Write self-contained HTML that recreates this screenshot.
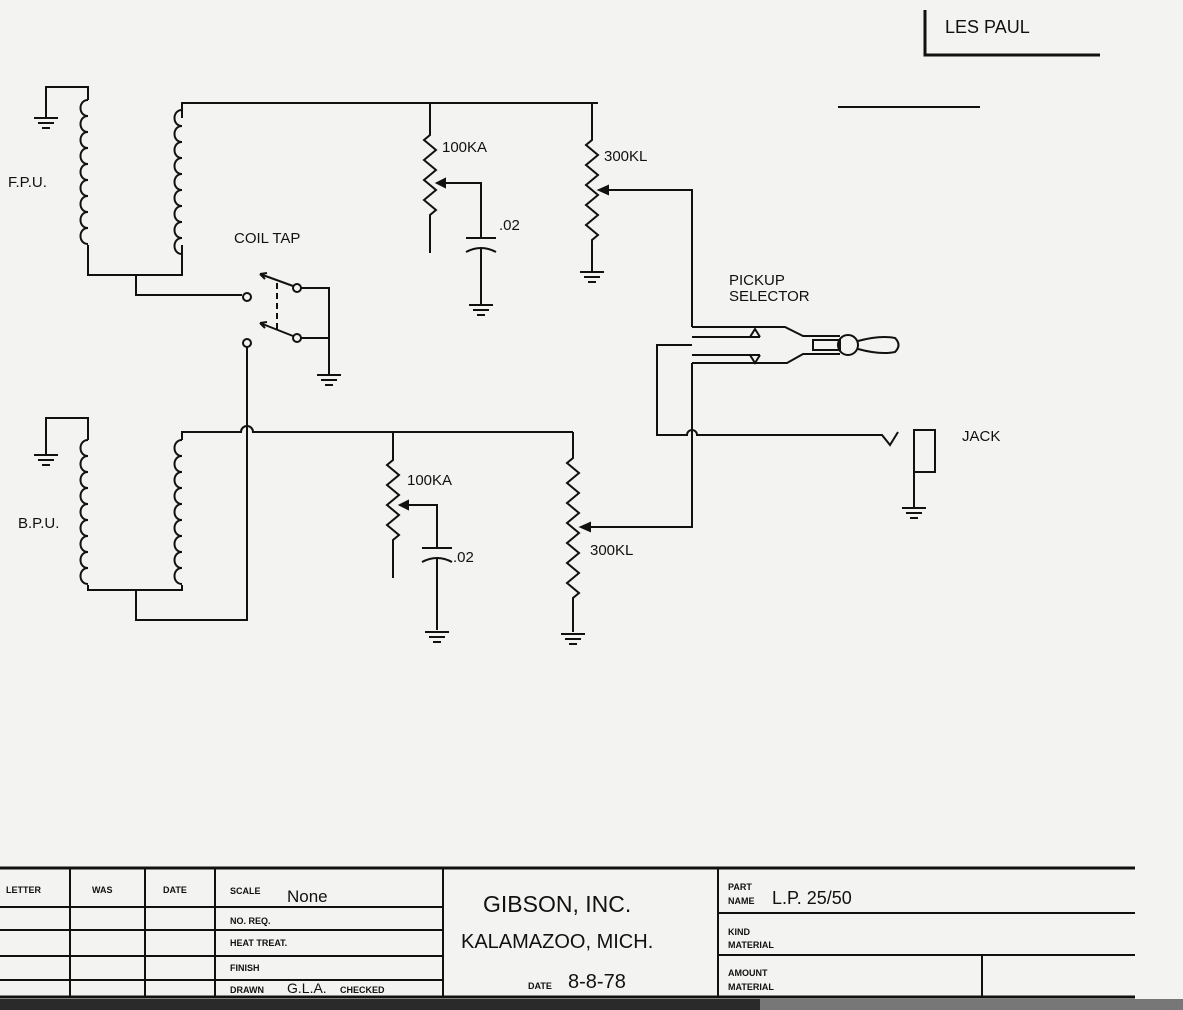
<!DOCTYPE html>
<html><head><meta charset="utf-8"><style>
body{margin:0;background:#f2f2f0;}
svg{display:block}
text{font-family:"Liberation Sans",sans-serif;fill:#111}
</style></head><body>
<svg width="1183" height="1010" viewBox="0 0 1183 1010" xmlns="http://www.w3.org/2000/svg">
<defs>
<g id="gnd" stroke="#111" stroke-width="2"><line x1="-12" y1="0" x2="12" y2="0"/><line x1="-8" y1="5" x2="8" y2="5"/><line x1="-4" y1="10" x2="4" y2="10"/></g>
<path id="coil" d="M0,0 c-10,0 -10,16 0,16 c-10,0 -10,16 0,16 c-10,0 -10,16 0,16 c-10,0 -10,16 0,16 c-10,0 -10,16 0,16 c-10,0 -10,16 0,16 c-10,0 -10,16 0,16 c-10,0 -10,16 0,16 c-10,0 -10,16 0,16" fill="none" stroke="#111" stroke-width="2"/>
</defs>
<rect width="1183" height="1010" fill="#f3f3f1"/>
<g fill="none" stroke="#111" stroke-width="2">
<path d="M925,10 V55 H1100" stroke-width="3"/>
<line x1="838" y1="107" x2="980" y2="107"/>
<path d="M46,118 V87 H88 V100"/>
<path d="M88,245 V275 H182 V245"/>
<path d="M182,118 V103 H598"/>
<path d="M136,275 V295 H242"/>
<circle cx="247" cy="297" r="4"/>
<circle cx="297" cy="288" r="4"/>
<circle cx="297" cy="338" r="4"/>
<circle cx="247" cy="343" r="4"/>
<path d="M293,286 L260,274 M260,274 l7,-1 M260,274 l5,5"/>
<path d="M293,336 L260,323 M260,323 l7,-1 M260,323 l5,5"/>
<line x1="277" y1="283" x2="277" y2="330" stroke-dasharray="6,4"/>
<path d="M301,288 H329 V375 M301,338 H329"/>
<path d="M247,347 V620 H136 V590"/>
<path d="M46,455 V418 H88 V440"/>
<path d="M88,585 V590 H182 V585"/>
<path d="M182,440 V432 H241 a6,6 0 0 1 12,0 H573"/>
<path d="M430,103 V135 l-6,5 l12,10 l-12,10 l12,10 l-12,10 l12,10 l-12,10 l12,10 l-6,5 V253"/>
<path d="M437,183 H481 V238"/>
<path d="M437,183 l8,-4 v8 z" fill="#111"/>
<line x1="466" y1="238" x2="496" y2="238"/>
<path d="M466,252 q15,-8 30,0"/>
<path d="M481,248 V305"/>
<path d="M592,103 V140 l-6,5 l12,10 l-12,10 l12,10 l-12,10 l12,10 l-12,10 l12,10 l-12,10 l12,10 l-6,5 V272"/>
<path d="M599,190 H692 V327"/>
<path d="M599,190 l9,-4 v8 z" fill="#111"/>
<path d="M692,327 H785 L803,336 H840"/>
<path d="M692,363 V527 H581"/>
<path d="M581,527 l9,-4 v8 z" fill="#111"/>
<path d="M692,363 H787 L803,354 H840"/>
<path d="M692,337 H760 M692,355 H760"/>
<path d="M750,337 l5,-8 l5,8 M750,355 l5,8 l5,-8"/>
<rect x="813" y="340" width="27" height="10"/>
<circle cx="848" cy="345" r="10"/>
<path d="M858,341 Q880,335 895,338 Q902,345 895,352 Q880,355 858,349"/>
<path d="M692,345 H657 V435 H687 a5,5 0 0 1 10,0 H882 l8,10 l8,-13"/>
<rect x="914" y="430" width="21" height="42"/>
<path d="M914,472 V508"/>
<path d="M393,432 V460 l-6,5 l12,10 l-12,10 l12,10 l-12,10 l12,10 l-12,10 l12,10 l-6,5 V578"/>
<path d="M400,505 H437 V548"/>
<path d="M400,505 l8,-4 v8 z" fill="#111"/>
<line x1="422" y1="548" x2="452" y2="548"/>
<path d="M422,562 q15,-8 30,0"/>
<path d="M437,558 V630"/>
<path d="M573,432 V458 l-6,5 l12,10 l-12,10 l12,10 l-12,10 l12,10 l-12,10 l12,10 l-12,10 l12,10 l-12,10 l12,10 l-12,10 l12,10 l-6,5 V632"/>
<line x1="0" y1="868" x2="1135" y2="868" stroke-width="3"/>
<path d="M0,907 H443 M0,930 H443 M0,956 H443 M0,980 H443"/>
<path d="M70,868 V997 M145,868 V997 M215,868 V997 M443,868 V997 M718,868 V997"/>
<path d="M718,913 H1135 M718,955 H1135 M982,955 V997"/>
<line x1="0" y1="997" x2="1135" y2="997" stroke-width="3"/>
</g>
<use href="#gnd" x="46" y="118"/>
<use href="#gnd" x="46" y="455"/>
<use href="#gnd" x="329" y="375"/>
<use href="#gnd" x="481" y="305"/>
<use href="#gnd" x="592" y="272"/>
<use href="#gnd" x="914" y="508"/>
<use href="#gnd" x="437" y="632"/>
<use href="#gnd" x="573" y="634"/>
<use href="#coil" x="88" y="100"/>
<use href="#coil" x="182" y="110"/>
<use href="#coil" x="88" y="440"/>
<use href="#coil" x="182" y="440"/>
<rect x="0" y="999" width="760" height="11" fill="#2a2a2a"/>
<rect x="760" y="999" width="423" height="11" fill="#777"/>
<g font-size="15">
<text x="945" y="33" font-size="18">LES  PAUL</text>
<text x="8" y="187">F.P.U.</text>
<text x="18" y="528">B.P.U.</text>
<text x="234" y="243">COIL TAP</text>
<text x="442" y="152">100KA</text>
<text x="499" y="230">.02</text>
<text x="604" y="161">300KL</text>
<text x="729" y="285">PICKUP</text>
<text x="729" y="301">SELECTOR</text>
<text x="962" y="441">JACK</text>
<text x="407" y="485">100KA</text>
<text x="453" y="562">.02</text>
<text x="590" y="555">300KL</text>
</g>
<g font-size="9" font-weight="bold">
<text x="6" y="893">LETTER</text><text x="92" y="893">WAS</text><text x="163" y="893">DATE</text>
<text x="230" y="894">SCALE</text><text x="230" y="924">NO. REQ.</text><text x="230" y="946">HEAT TREAT.</text>
<text x="230" y="971">FINISH</text><text x="230" y="993">DRAWN</text><text x="340" y="993">CHECKED</text>
<text x="728" y="890">PART</text><text x="728" y="904">NAME</text>
<text x="728" y="935">KIND</text><text x="728" y="948">MATERIAL</text>
<text x="728" y="976">AMOUNT</text><text x="728" y="990">MATERIAL</text>
<text x="528" y="989">DATE</text>
</g>
<text x="287" y="902" font-size="17">None</text>
<text x="287" y="993" font-size="14">G.L.A.</text>
<text x="483" y="912" font-size="23">GIBSON, INC.</text>
<text x="461" y="948" font-size="20">KALAMAZOO, MICH.</text>
<text x="568" y="988" font-size="20">8-8-78</text>
<text x="772" y="904" font-size="18">L.P. 25/50</text>
</svg>
</body></html>
